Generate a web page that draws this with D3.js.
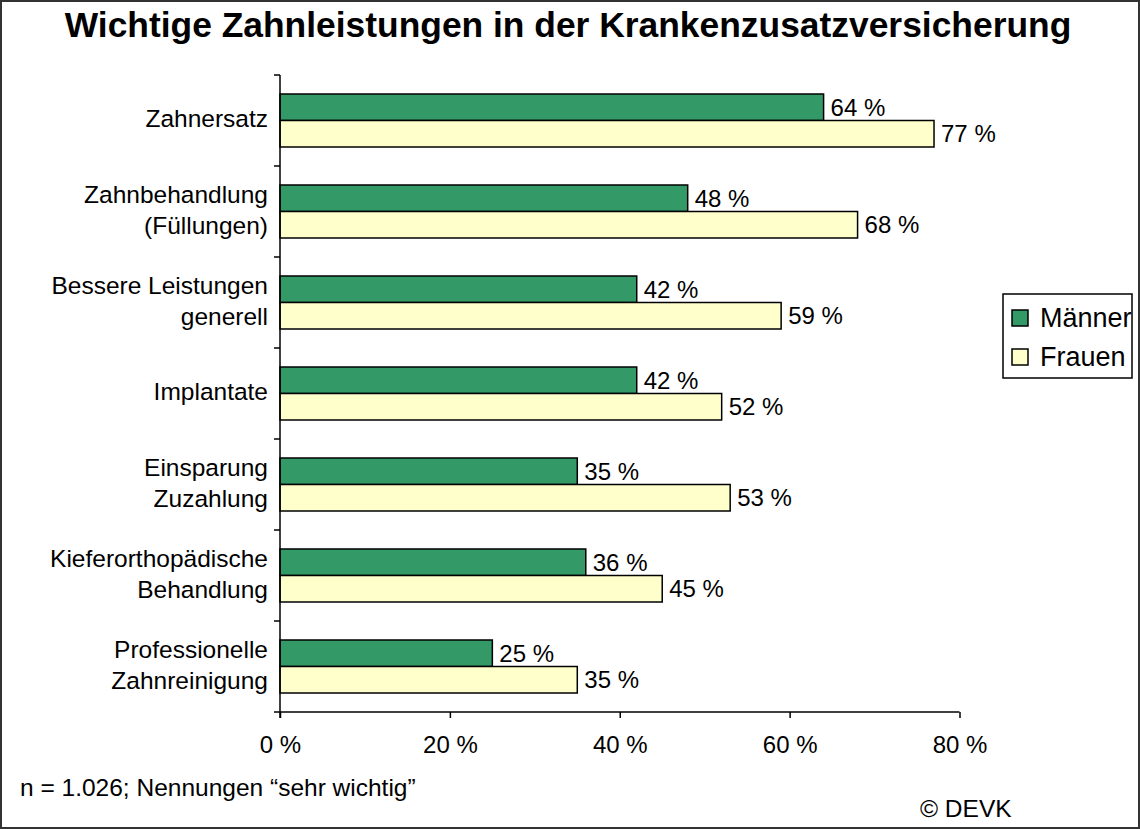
<!DOCTYPE html>
<html><head><meta charset="utf-8">
<script src="https://cdn.jsdelivr.net/npm/d3@7"></script>
<style>
html,body{margin:0;padding:0;background:#fff;}
svg{display:block;font-family:"Liberation Sans",Arial,sans-serif;}
</style></head>
<body>
<svg id="chart" width="1140" height="829"></svg>
<script>
const categories = [
  ["Zahnersatz"],
  ["Zahnbehandlung","(Füllungen)"],
  ["Bessere Leistungen","generell"],
  ["Implantate"],
  ["Einsparung","Zuzahlung"],
  ["Kieferorthopädische","Behandlung"],
  ["Professionelle","Zahnreinigung"]
];
const seriesNames = ["Männer","Frauen"];
const maenner = [64,48,42,42,35,36,25];
const frauen = [77,68,59,52,53,45,35];
const tickValues = [0,20,40,60,80];
const colors = ["#339966","#FFFFCC"];

(function(){
const svg = d3.select("#chart");
const W = 1140, H = 829;
svg.append("rect").attr("x",1).attr("y",1).attr("width",W-2).attr("height",H-2)
  .attr("fill","#fff").attr("stroke","#333").attr("stroke-width",2);

svg.append("text").attr("x",568).attr("y",37).attr("text-anchor","middle")
  .attr("font-size",35.4).attr("font-weight","bold").attr("fill","#000")
  .text("Wichtige Zahnleistungen in der Krankenzusatzversicherung");

const pLeft = 280, pRight = 959.5, pTop = 75, pBottom = 712;
const x = d3.scaleLinear().domain([0,80]).range([pLeft,pRight]);
const y0 = d3.scaleBand().domain(d3.range(categories.length)).range([pTop,pBottom]).padding(0);
const y1 = d3.scaleBand().domain(seriesNames).range([0,y0.bandwidth()]).paddingInner(0).paddingOuter(0.717);

const data = categories.map((c,i)=>({i, label:c, values:[maenner[i],frauen[i]]}));

const g = svg.append("g");
const groups = g.selectAll("g.grp").data(data).join("g").attr("transform",d=>`translate(0,${y0(d.i)})`);
groups.selectAll("rect").data(d=>d.values.map((v,k)=>({v,k}))).join("rect")
  .attr("x",x(0)).attr("y",d=>y1(seriesNames[d.k]))
  .attr("width",d=>x(d.v)-x(0)).attr("height",y1.bandwidth())
  .attr("fill",d=>colors[d.k]).attr("stroke","#000").attr("stroke-width",1.5);
groups.selectAll("text.val").data(d=>d.values.map((v,k)=>({v,k}))).join("text")
  .attr("class","val")
  .attr("x",d=>x(d.v)+7).attr("y",d=>y1(seriesNames[d.k])+y1.bandwidth()/2)
  .attr("dy","0.36em").attr("font-size",24).attr("fill","#000")
  .text(d=>d.v+" %");

groups.each(function(d){
  const t = d3.select(this).append("text").attr("text-anchor","end").attr("font-size",24.5).attr("fill","#000");
  const n = d.label.length, lh = 31;
  d.label.forEach((line,j)=>{
    t.append("tspan").attr("x",268).attr("y",y0.bandwidth()/2 + (j-(n-1)/2)*lh).attr("dy","0.27em").text(line);
  });
});

const yAxisG = svg.append("g");
yAxisG.append("line").attr("x1",pLeft).attr("x2",pLeft).attr("y1",pTop).attr("y2",pBottom+6)
  .attr("stroke","#000").attr("stroke-width",1.5);
const bounds = d3.range(categories.length).map(i=>y0(i));
yAxisG.selectAll("line.t").data(bounds).join("line").attr("class","t")
  .attr("x1",pLeft-6).attr("x2",pLeft).attr("y1",d=>d).attr("y2",d=>d)
  .attr("stroke","#000").attr("stroke-width",1.5);

const xAxis = d3.axisBottom(x).tickValues(tickValues).tickSize(6).tickPadding(18).tickFormat(d=>d+" %");
const xg = svg.append("g").attr("transform",`translate(0,${pBottom})`).call(xAxis);
xg.select(".domain").attr("d",`M${pLeft-6},0H${pRight}`).attr("stroke","#000").attr("stroke-width",1.5);
xg.selectAll(".tick line").attr("stroke","#000").attr("stroke-width",1.5);
xg.selectAll(".tick text").attr("font-size",24).attr("fill","#000").attr("font-family","Liberation Sans, Arial, sans-serif");

const lg = svg.append("g");
lg.append("rect").attr("x",1003).attr("y",294).attr("width",129).attr("height",84)
  .attr("fill","#fff").attr("stroke","#000").attr("stroke-width",1.5);
seriesNames.forEach((s,k)=>{
  const cy = 318 + k*39;
  lg.append("rect").attr("x",1012).attr("y",cy-8).attr("width",16).attr("height",16)
    .attr("fill",colors[k]).attr("stroke","#000").attr("stroke-width",1.5);
  lg.append("text").attr("x",1040).attr("y",cy).attr("dy","0.35em").attr("font-size",27).attr("fill","#000").text(s);
});

svg.append("text").attr("x",20).attr("y",787).attr("dy","0.35em").attr("font-size",24.5).attr("fill","#000")
  .text("n = 1.026; Nennungen \u201Csehr wichtig\u201D");
svg.append("text").attr("x",920).attr("y",808).attr("dy","0.35em").attr("font-size",24.5).attr("fill","#000")
  .text("\u00A9 DEVK");
})();
</script>
</body></html>
